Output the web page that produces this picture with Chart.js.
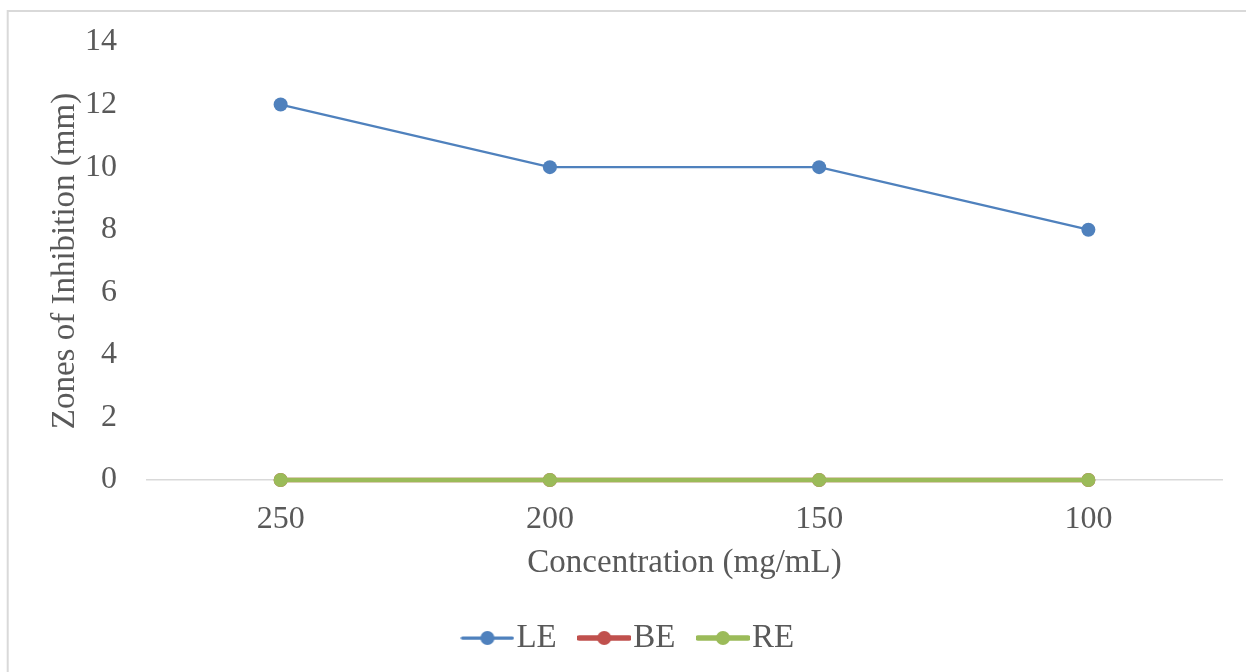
<!DOCTYPE html>
<html>
<head>
<meta charset="utf-8">
<script src="https://cdn.jsdelivr.net/npm/chart.js@4.4.1/dist/chart.umd.min.js"></script>
<style>
  html, body { margin: 0; padding: 0; background: #fff; }
  #wrap { width: 1246px; height: 672px; }
</style>
</head>
<body>
<div id="wrap"><canvas id="chart" width="1246" height="672"></canvas></div>
<script>
// values
const categories = ['250', '200', '150', '100']
const leValues = [12, 10, 10, 8]
const beValues = [0, 0, 0, 0]
const reValues = [0, 0, 0, 0]
const yMin = 0, yMax = 14, yStep = 2

const seriesNames = ['LE', 'BE', 'RE']
const seriesColors = ['#4f81bd', '#c0504d', '#9bbb59']
const seriesWidths = [2.25, 4.5, 4.5]

const textColor = '#595959'
const serif = "'Liberation Serif', 'Times New Roman', serif"

// legend marker: a short line with a dot in the middle, like Excel draws it
function legendMark(color, width) {
  var c = document.createElement('canvas')
  c.width = 54
  c.height = 16
  var g = c.getContext('2d')
  g.strokeStyle = color
  g.lineWidth = width + 1
  g.lineCap = 'round'
  g.beginPath()
  g.moveTo(2, 8)
  g.lineTo(52, 8)
  g.stroke()
  g.fillStyle = color
  g.beginPath()
  g.arc(27, 8, 7, 0, Math.PI * 2)
  g.fill()
  return c
}

const frame = {
  id: 'frame',
  beforeDraw(chart) {
    var ctx = chart.ctx
    ctx.save()
    ctx.fillStyle = '#fff'
    ctx.fillRect(0, 0, chart.width, chart.height)
    ctx.strokeStyle = '#d9d9d9'
    ctx.lineWidth = 2
    ctx.beginPath()
    ctx.moveTo(7.7, chart.height)
    ctx.lineTo(7.7, 11)
    ctx.lineTo(chart.width, 11)
    ctx.stroke()
    ctx.restore()
  }
}

function makeSet(i, data, order) {
  return {
    label: seriesNames[i],
    data: data,
    borderColor: seriesColors[i],
    backgroundColor: seriesColors[i],
    borderWidth: seriesWidths[i],
    pointRadius: 7,
    pointHoverRadius: 7,
    pointBorderWidth: 0,
    pointBackgroundColor: seriesColors[i],
    tension: 0,
    clip: false,
    order: order
  }
}

new Chart(document.getElementById('chart'), {
  type: 'line',
  data: {
    labels: categories,
    datasets: [
      makeSet(0, leValues, 2),
      makeSet(1, beValues, 1),
      makeSet(2, reValues, 0)
    ]
  },
  plugins: [frame],
  options: {
    responsive: false,
    animation: false,
    events: [],
    layout: { padding: { top: 42, right: 23, bottom: 7.5, left: 46 } },
    scales: {
      x: {
        offset: true,
        grid: { display: false, drawTicks: false },
        border: { display: false },
        ticks: { color: textColor, font: { family: serif, size: 32 }, padding: 20, maxRotation: 0 },
        title: {
          display: true,
          text: 'Concentration (mg/mL)',
          color: textColor,
          font: { family: serif, size: 33 },
          padding: { top: 0, bottom: 3.7 }
        },
        afterFit(scale) { scale.height = 106.5 }
      },
      y: {
        min: yMin,
        max: yMax,
        ticks: { stepSize: yStep, color: textColor, font: { family: serif, size: 32 }, padding: 20 },
        grid: {
          drawTicks: true,
          tickLength: 9,
          tickColor: 'rgba(0,0,0,0)',
          lineWidth: 1.5,
          color: ctx => ctx.tick && ctx.tick.value === 0 ? '#d9d9d9' : 'rgba(0,0,0,0)'
        },
        border: { display: false },
        title: {
          display: true,
          text: 'Zones of Inhibition (mm)',
          color: textColor,
          font: { family: serif, size: 33 },
          padding: 0
        },
        afterFit(scale) { scale.width = 100 }
      }
    },
    plugins: {
      tooltip: { enabled: false },
      legend: {
        position: 'bottom',
        labels: {
          color: textColor,
          font: { family: serif, size: 33 },
          usePointStyle: true,
          pointStyleWidth: 25,
          boxHeight: 33,
          padding: 35,
          sort: (a, b) => a.datasetIndex - b.datasetIndex,
          generateLabels(chart) {
            var items = Chart.defaults.plugins.legend.labels.generateLabels(chart)
            items.forEach(function (it) {
              it.pointStyle = legendMark(seriesColors[it.datasetIndex], seriesWidths[it.datasetIndex])
            })
            return items
          }
        }
      }
    }
  }
})
</script>
</body>
</html>
